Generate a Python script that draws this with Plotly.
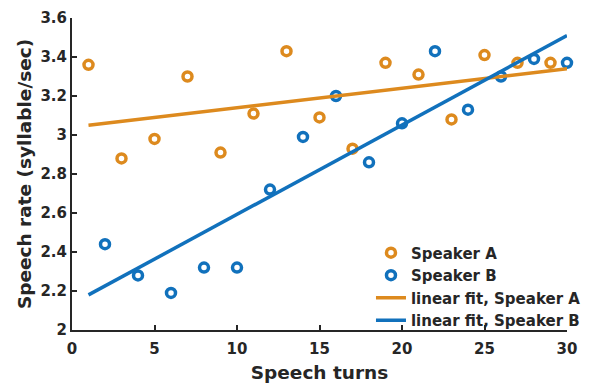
import plotly.graph_objects as go

turns_a = [1, 3, 5, 7, 9, 11, 13, 15, 17, 19, 21, 23, 25, 27, 29]
rate_a = [3.36, 2.88, 2.98, 3.30, 2.91, 3.11, 3.43, 3.09, 2.93, 3.37, 3.31, 3.08, 3.41, 3.37, 3.37]
turns_b = [2, 4, 6, 8, 10, 12, 14, 16, 18, 20, 22, 24, 26, 28, 30]
rate_b = [2.44, 2.28, 2.19, 2.32, 2.32, 2.72, 2.99, 3.20, 2.86, 3.06, 3.43, 3.13, 3.30, 3.39, 3.37]
fit_x = [1, 30]
fit_a = [3.05, 3.34]
fit_b = [2.18, 3.51]
x_ticks = [0, 5, 10, 15, 20, 25, 30]
y_ticks = [2, 2.2, 2.4, 2.6, 2.8, 3, 3.2, 3.4, 3.6]
y_tick_text = ["2", "2.2", "2.4", "2.6", "2.8", "3", "3.2", "3.4", "3.6"]

ORANGE = "#DD8A1E"
BLUE = "#1171BC"
AX = "#262626"
FONT = "DejaVu Sans"

fig = go.Figure()
fig.add_trace(go.Scatter(x=turns_a, y=rate_a, mode="markers", name="<b>Speaker A</b>", cliponaxis=False,
                         marker=dict(symbol="circle-open", size=9, color=ORANGE, line=dict(width=3.5, color=ORANGE))))
fig.add_trace(go.Scatter(x=turns_b, y=rate_b, mode="markers", name="<b>Speaker B</b>", cliponaxis=False,
                         marker=dict(symbol="circle-open", size=9, color=BLUE, line=dict(width=3.5, color=BLUE))))
fig.add_trace(go.Scatter(x=fit_x, y=fit_a, mode="lines", name="<b>linear fit, Speaker A</b>",
                         line=dict(color=ORANGE, width=3.5)))
fig.add_trace(go.Scatter(x=fit_x, y=fit_b, mode="lines", name="<b>linear fit, Speaker B</b>",
                         line=dict(color=BLUE, width=3.5)))

axis_common = dict(showgrid=False, zeroline=False, showline=True, linecolor=AX, linewidth=2,
                   ticks="inside", ticklen=5, tickwidth=2, tickcolor=AX, automargin=False,
                   tickfont=dict(family=FONT, size=15, color=AX))

fig.update_xaxes(range=[0, 30], tickvals=x_ticks, ticktext=[f"<b>{t}</b>" for t in x_ticks],
                 ticklabelstandoff=4,
                 title=dict(text="<b>Speech turns</b>", font=dict(family=FONT, size=18.5, color=AX), standoff=9),
                 **axis_common)
fig.update_yaxes(range=[2, 3.6], tickvals=y_ticks, ticktext=[f"<b>{t}</b>" for t in y_tick_text],
                 title=dict(text="<b>Speech rate (syllable/sec)</b>", font=dict(family=FONT, size=18.5, color=AX), standoff=4),
                 **axis_common)

fig.update_layout(
    width=598, height=383,
    margin=dict(l=72, r=28, t=18, b=53),
    plot_bgcolor="white", paper_bgcolor="white",
    font=dict(family=FONT, color=AX),
    showlegend=True,
    legend=dict(x=0.604, y=0.30, xanchor="left", yanchor="top", bgcolor="rgba(0,0,0,0)",
                font=dict(family=FONT, size=15, color=AX), tracegroupgap=0, itemwidth=30),
)

fig.write_html("out.html")
